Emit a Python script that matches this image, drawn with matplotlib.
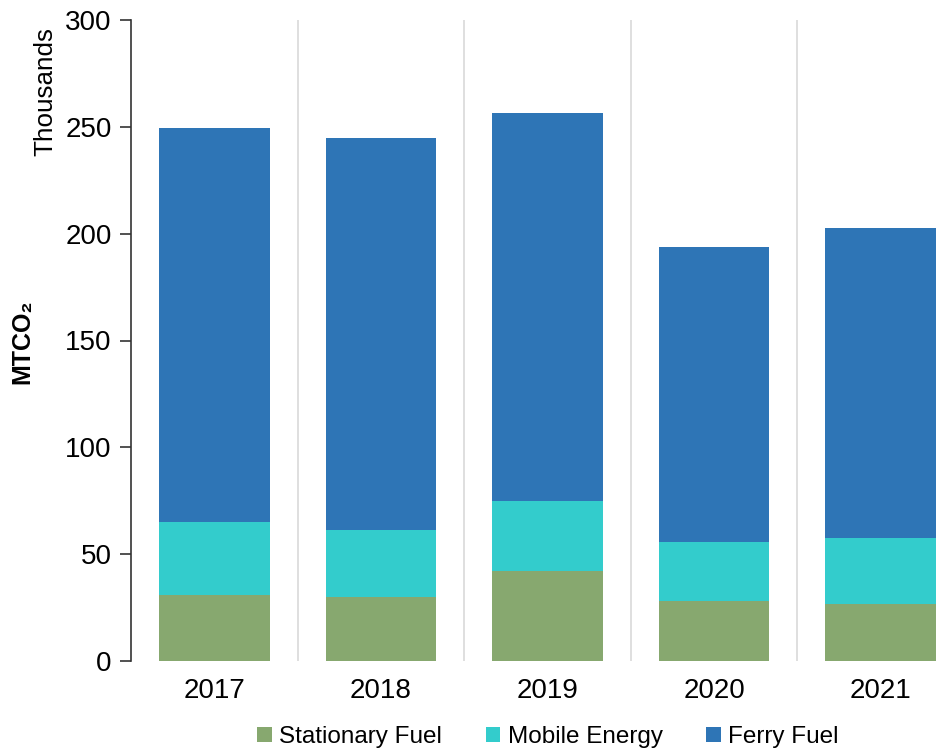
import matplotlib
matplotlib.use("Agg")
import matplotlib.pyplot as plt
import numpy as np

plt.rcParams['font.family'] = ['Liberation Sans', 'DejaVu Sans']

years = ["2017", "2018", "2019", "2020", "2021"]
stationary = [30.9, 30.0, 42.1, 28.1, 26.7]
mobile = [34.1, 31.3, 32.8, 27.6, 30.9]
ferry = [184.4, 183.4, 181.5, 138.0, 145.0]

colors = {"Stationary Fuel": "#87A86F", "Mobile Energy": "#33CCCC", "Ferry Fuel": "#2E75B6"}

fig = plt.figure(figsize=(9.52, 7.51), dpi=100)
ax = fig.add_axes([131/952, 1-661/751, (964-131)/952, (661-20)/751])

x = np.arange(len(years))
w = 0.665
s = np.array(stationary); m = np.array(mobile); f = np.array(ferry)
ax.bar(x, s, w, color=colors["Stationary Fuel"], label="Stationary Fuel", zorder=3)
ax.bar(x, m, w, bottom=s, color=colors["Mobile Energy"], label="Mobile Energy", zorder=3)
ax.bar(x, f, w, bottom=s+m, color=colors["Ferry Fuel"], label="Ferry Fuel", zorder=3)

for b in np.arange(0.5, len(years)-0.5, 1.0):
    ax.axvline(b, color="#D9D9D9", lw=1.2, zorder=1)

ax.set_xlim(-0.5, len(years)-0.5)
ax.set_ylim(0, 300)
ax.set_yticks([0, 50, 100, 150, 200, 250, 300])
ax.set_xticks(x)
ax.set_xticklabels(years)
ax.tick_params(axis='y', labelsize=20, length=8, width=1.2, color="#333333", pad=6)
ax.tick_params(axis='x', labelsize=20, length=0, pad=12)
for sp in ["top", "right", "bottom"]:
    ax.spines[sp].set_visible(False)
ax.spines["left"].set_linewidth(1.2)
ax.spines["left"].set_color("#333333")

fig.text(22/952, 1-342/751, "MTCO₂", rotation=90, fontsize=18, fontweight="bold",
         ha="center", va="center")
fig.text(45/952, 1-92/751, "Thousands", rotation=90, fontsize=18.7, ha="center", va="center")

leg = fig.legend(loc="center", bbox_to_anchor=(548/952, 1-737/751), ncol=3, frameon=False,
                 fontsize=17.5, handlelength=0.6, handleheight=0.6, handletextpad=0.3,
                 columnspacing=1.8)

fig.savefig("out.png", dpi=100)
